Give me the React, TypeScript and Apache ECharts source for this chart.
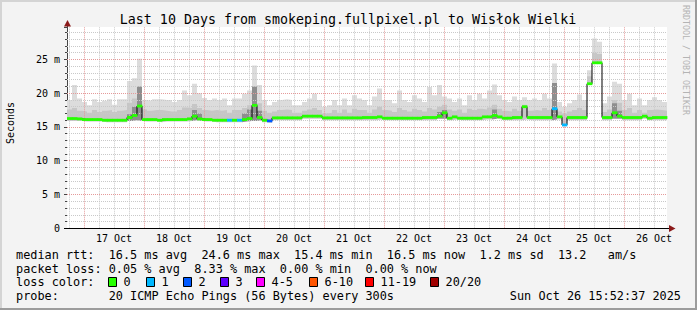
import React, { useEffect, useRef } from 'react';
import * as echarts from 'echarts';

const W = 697;
const H = 310;
const FONT = "'DejaVu Sans Mono', monospace";

const titleText = 'Last 10 Days from smokeping.fullpixel.pl to Wisłok Wielki';
const yAxisTitle = 'Seconds';
const watermark = 'RRDTOOL / TOBI OETIKER';

// time: hours since the left edge of the graph
const stepHours = 2;
const spanHours = 240;
const firstMidnight = 6.8;
const dayLabels = ['17 Oct', '18 Oct', '19 Oct', '20 Oct', '21 Oct', '22 Oct', '23 Oct', '24 Oct', '25 Oct', '26 Oct'];

// median rtt (ms), one value per 2-hour step
const median = [
  16.25, 16.25, 16.2, 16.1, 16.1, 16.1, 16.1, 16.0, 16.0, 16.0, 16.0, 16.0, 16.4, 16.7, 18.1, 16.1, 16.1, 16.1, 16.0, 16.1, 16.1, 16.1, 16.1, 16.1, 16.2, 16.6, 16.2, 16.1, 16.1,
  16.0, 16.0, 16.0, 16.0, 16.0, 16.0, 16.1, 16.25, 18.2, 16.4, 16.0, 15.9, 16.35, 16.35, 16.35, 16.35, 16.35, 16.35, 16.6, 16.6, 16.6, 16.6, 16.35, 16.35, 16.35, 16.35, 16.35, 16.35, 16.35, 16.35,
  16.4, 16.4, 16.4, 16.5, 16.3, 16.3, 16.3, 16.3, 16.3, 16.3, 16.3, 16.3, 16.4, 16.4, 16.4, 16.6, 17.1, 16.3, 16.5, 16.3, 16.3, 16.3, 16.3, 16.3, 16.5, 16.5, 16.7, 16.5, 16.3, 16.3,
  16.4, 16.4, 18.0, 16.4, 16.4, 16.4, 16.4, 16.4, 17.7, 16.5, 15.3, 16.4, 16.4, 16.4, 16.4, 21.4, 24.5, 24.5, 16.4, 16.4, 17.1, 16.6, 16.4, 16.4, 16.4, 16.4, 16.6, 16.3, 16.4, 16.4, 16.4,
];

// smoke: lowest ping, upper edge of the dense band, highest ping (ms)
const smokeLo = [
  15.9, 15.9, 15.9, 15.8, 15.8, 15.8, 15.8, 15.7, 15.7, 15.7, 15.7, 15.7, 15.9, 16.0, 15.9, 15.8, 15.8, 15.8, 15.7, 15.8, 15.8, 15.8, 15.8, 15.8, 15.9, 16.0, 15.9, 15.8, 15.8,
  15.7, 15.7, 15.7, 15.7, 15.7, 15.7, 15.8, 15.9, 15.9, 16.0, 15.7, 15.6, 16.0, 16.0, 16.0, 16.0, 16.0, 16.0, 16.2, 16.2, 16.2, 16.2, 16.0, 16.0, 16.0, 16.0, 16.0, 16.0, 16.0, 16.0,
  16.0, 16.0, 16.0, 16.1, 16.0, 16.0, 16.0, 16.0, 16.0, 16.0, 16.0, 16.0, 16.0, 16.0, 16.0, 16.2, 16.2, 16.0, 16.1, 16.0, 16.0, 16.0, 16.0, 16.0, 16.1, 16.1, 16.2, 16.1, 16.0, 16.0,
  16.0, 16.0, 16.1, 16.0, 16.0, 16.0, 16.0, 16.0, 16.1, 16.1, 15.1, 16.0, 16.0, 16.0, 16.0, 21.4, 24.5, 24.5, 16.0, 16.0, 16.2, 16.2, 16.0, 16.0, 16.0, 16.0, 16.2, 16.0, 16.0, 16.0, 16.0,
];
const smokeMid = [
  17.6, 17.8, 17.4, 17.3, 17.1, 17.5, 17.2, 17.4, 17.5, 17.2, 17.4, 17.5, 18.6, 19.2, 20.5, 17.6, 17.4, 17.5, 17.5, 17.4, 17.3, 17.3, 17.5, 17.9, 17.8, 18.4, 17.8, 17.5, 17.4,
  17.5, 17.4, 17.5, 17.1, 17.5, 17.5, 17.8, 18.2, 20.5, 18.5, 17.4, 17.1, 17.3, 17.5, 17.6, 17.5, 17.1, 17.1, 17.4, 17.6, 17.8, 17.5, 17.0, 17.1, 17.5, 17.1, 17.6, 17.1, 17.7, 17.5,
  17.5, 17.1, 17.6, 18.0, 17.5, 17.4, 17.2, 17.8, 17.5, 17.3, 17.7, 17.5, 17.3, 17.8, 17.6, 18.0, 18.3, 17.6, 17.4, 17.6, 17.1, 17.7, 17.5, 17.7, 17.6, 17.9, 18.3, 17.7, 17.4, 17.3,
  17.7, 17.4, 18.3, 17.4, 17.5, 17.4, 17.8, 17.5, 20.0, 17.3, 17.0, 17.3, 17.5, 17.8, 17.5, 22.5, 26.0, 25.8, 17.2, 17.6, 19.0, 18.6, 17.5, 17.8, 17.1, 17.5, 17.1, 17.5, 17.6, 17.5, 17.4,
];
const smokeHi = [
  19.0, 21.2, 19.2, 18.7, 18.2, 19.1, 18.7, 18.9, 19.1, 18.3, 19.1, 19.1, 21.8, 22.2, 25.1, 19.0, 18.9, 19.1, 19.1, 19.0, 19.0, 18.7, 19.0, 20.4, 19.7, 21.4, 20.0, 19.3, 19.0,
  19.2, 19.0, 19.2, 18.2, 19.2, 19.2, 19.9, 20.4, 24.1, 21.2, 19.0, 18.2, 18.7, 19.0, 19.1, 19.0, 18.2, 18.2, 18.7, 19.2, 19.9, 19.0, 18.0, 18.2, 19.0, 18.2, 19.2, 18.2, 19.7, 19.2,
  19.0, 18.2, 19.5, 20.7, 19.0, 19.0, 18.5, 20.4, 19.0, 18.7, 19.7, 19.2, 18.7, 20.9, 19.7, 21.2, 19.5, 19.2, 18.7, 19.2, 18.2, 19.7, 19.0, 19.9, 19.2, 20.4, 21.3, 19.7, 19.0, 18.7,
  19.5, 19.0, 19.4, 19.0, 19.2, 19.0, 19.9, 19.2, 24.4, 18.7, 18.0, 18.5, 19.0, 19.8, 19.0, 23.4, 28.1, 27.6, 18.5, 19.5, 21.7, 21.4, 19.0, 19.9, 18.2, 19.2, 18.2, 19.0, 19.4, 19.0, 18.7,
];
// [step index, top of the dark smoke column in ms]
const darkSpikes = [
  [12, 16.9], [13, 18.0], [14, 21.0], [25, 17.5], [26, 17.0],
  [35, 17.0], [36, 17.6], [37, 21.0], [38, 17.4],
  [74, 17.2], [75, 17.5], [85, 17.6],
  [97, 21.5], [109, 18.5], [110, 17.4],
];
// [step index, loss class]
const lossMarks = [[32, 1], [34, 1], [40, 2], [97, 1], [99, 1]];

const lossLabels = ['0', '1', '2', '3', '4-5', '6-10', '11-19', '20/20'];
const lossColors = ['#26ff00', '#00b8ff', '#0059ff', '#5e00ff', '#ff00ff', '#ff5500', '#ff0000', '#a00000'];

const legendRtt = 'median rtt:  16.5 ms avg  24.6 ms max  15.4 ms min  16.5 ms now  1.2 ms sd  13.2   am/s';
const legendLoss = 'packet loss: 0.05 % avg  8.33 % max  0.00 % min  0.00 % now';
const legendColor = 'loss color:';
const legendProbe = 'probe:       20 ICMP Echo Pings (56 Bytes) every 300s';
const legendStamp = 'Sun Oct 26 15:52:37 2025';

function buildOption() {
  const xs = median.map((_, i) => i * stepHours);
  const withEnd = (arr: number[]) => [...arr.map((v, i) => [xs[i], v]), [spanHours, arr[arr.length - 1]]];
  const darkMap = new Map(darkSpikes.map(([i, v]) => [i, v]));
  const lossMap = new Map(lossMarks.map(([i, v]) => [i, v]));
  const darkTop = smokeLo.map((_, i) => (darkMap.has(i) ? (darkMap.get(i) as number) : 0));
  const medianBars = median.map((m, i) => [xs[i], xs[i] + stepHours, m, lossMap.get(i) ?? 0]);

  const minorY: number[] = [];
  const majorY: number[] = [];
  for (let v = 1; v < 30; v++) (v % 5 === 0 ? majorY : minorY).push(v);
  const minorX: number[] = [];
  const majorX: number[] = [];
  for (let h = firstMidnight - 6; h < spanHours; h += 6) {
    const k = Math.round((h - firstMidnight) / 6);
    if (h <= 0) continue;
    (k % 4 === 0 ? majorX : minorX).push(h);
  }

  const hidden = { width: 0, opacity: 0 };
  // painter's order: each layer fills down to the axis, the next one paints over it
  const layer = (arr: number[], color: string, z: number) => ({
    type: 'line', step: 'end', symbol: 'none', silent: true, z, lineStyle: hidden,
    data: withEnd(arr), areaStyle: { color, opacity: 1, origin: 'start' },
  });

  const gridLine = (color: string, xv: number[], yv: number[]) => ({
    type: 'line', data: [], silent: true, z: 3,
    markLine: {
      silent: true, symbol: ['none', 'none'], animation: false, z: 4,
      label: { show: false },
      lineStyle: { color, width: 1, type: [1, 1] },
      emphasis: { disabled: true },
      data: [...xv.map((v) => ({ xAxis: v })), ...yv.map((v) => ({ yAxis: v }))],
    },
  });

  const LF = 11.85;
  const legendBoxX = [108, 146, 183, 220, 256, 309, 365, 430];
  const txt = (text: string, x: number, y: number, size: number, extra: any = {}) => ({
    type: 'text', x, y, silent: true, z: 20,
    style: { text, fill: '#000', fontFamily: FONT, fontSize: size, align: 'left', verticalAlign: 'middle', ...extra },
  });

  const graphic: any[] = [
    { type: 'rect', shape: { x: 0, y: 0, width: W, height: 2 }, style: { fill: '#d4d4d4' }, silent: true },
    { type: 'rect', shape: { x: 0, y: 0, width: 2, height: H }, style: { fill: '#d4d4d4' }, silent: true },
    { type: 'rect', shape: { x: W - 2, y: 0, width: 2, height: H }, style: { fill: '#9c9c9c' }, silent: true },
    { type: 'rect', shape: { x: 0, y: H - 2, width: W, height: 2 }, style: { fill: '#9c9c9c' }, silent: true },
    txt(titleText, 348, 19, 13.3, { align: 'center' }),
    { ...txt(yAxisTitle, 10, 123, 10, { align: 'center' }), rotation: Math.PI / 2 },
    { ...txt(watermark, 686, 60, 8.3, { align: 'center', fill: '#b4b4b4' }), rotation: -Math.PI / 2 },
    { type: 'line', shape: { x1: 67.5, y1: 21, x2: 67.5, y2: 28 }, style: { stroke: '#444', lineWidth: 1 }, silent: true, z: 20 },
    { type: 'line', shape: { x1: 64, y1: 228.5, x2: 671, y2: 228.5 }, style: { stroke: '#000', lineWidth: 1 }, silent: true, z: 20 },
    { type: 'polygon', shape: { points: [[64, 26.5], [71, 26.5], [67.5, 20]] }, style: { fill: '#8b1a1a' }, silent: true, z: 21 },
    { type: 'polygon', shape: { points: [[669, 225], [669, 232], [675.5, 228.5]] }, style: { fill: '#8b1a1a' }, silent: true, z: 21 },
    txt(legendRtt, 16, 255, LF),
    txt(legendLoss, 16, 268.5, LF),
    txt(legendColor, 16, 282, LF),
    txt(legendProbe, 16, 296, LF),
    txt(legendStamp, 681, 296, LF, { align: 'right' }),
  ];
  lossLabels.forEach((lab, k) => {
    graphic.push({
      type: 'rect', shape: { x: legendBoxX[k] + 0.5, y: 277.5, width: 8, height: 9 },
      style: { fill: lossColors[k], stroke: '#000', lineWidth: 1 }, silent: true, z: 20,
    });
    graphic.push(txt(lab, legendBoxX[k] + 15.5, 282, LF));
  });

  return {
    animation: false,
    backgroundColor: '#f3f3f3',
    grid: { left: 67, right: 30, top: 27, bottom: 81.7, show: true, backgroundColor: '#ffffff', borderWidth: 0 },
    xAxis: {
      type: 'value', min: 0, max: spanHours,
      axisLine: { show: false },
      axisTick: { show: false },
      splitLine: { show: false },
      axisLabel: {
        customValues: dayLabels.map((_, k) => firstMidnight + 12 + 24 * k),
        formatter: (v: number) => dayLabels[Math.round((v - firstMidnight - 12) / 24)] ?? '',
        color: '#000', fontFamily: FONT, fontSize: 10, margin: 5,
      },
    },
    yAxis: {
      type: 'value', min: 0, max: 29.8, interval: 5,
      axisLine: { show: true, lineStyle: { color: '#444', width: 1 } },
      axisTick: { show: true, length: 3, lineStyle: { color: '#444' } },
      minorTick: { show: true, splitNumber: 5, length: 2, lineStyle: { color: '#444' } },
      splitLine: { show: false },
      axisLabel: {
        formatter: (v: number) => (v === 0 ? '0' : Math.abs(v % 5) < 1e-6 ? `${v} m` : ''),
        color: '#000', fontFamily: FONT, fontSize: 10, margin: 7,
      },
    },
    graphic,
    series: [
      layer(smokeHi, '#dcdcdc', 2),
      layer(smokeMid, '#c6c6c6', 2),
      layer(darkTop, '#8e8e8e', 2),
      layer(smokeLo, '#ffffff', 2),
      gridLine('#c9c9c9', minorX, minorY),
      gridLine('#e59a9a', majorX, majorY),
      {
        type: 'line', step: 'end', symbol: 'none', silent: true, z: 9,
        data: withEnd(median), lineStyle: { color: '#000', width: 1 },
      },
      {
        type: 'custom', silent: true, z: 10,
        data: medianBars,
        encode: { x: [0, 1], y: 2 },
        renderItem: (params: any, api: any) => {
          const x0 = api.value(0);
          const x1 = api.value(1);
          const m = api.value(2);
          const c = api.value(3);
          const p0 = api.coord([x0, m]);
          const p1 = api.coord([x1, m]);
          return {
            type: 'rect',
            shape: { x: p0[0], y: p0[1] - 1.4, width: p1[0] - p0[0] + 0.4, height: 2.8 },
            style: { fill: lossColors[c] },
          };
        },
      },
    ],
  };
}

export default function App() {
  const ref = useRef<HTMLDivElement>(null);
  useEffect(() => {
    const chart = echarts.init(ref.current as HTMLDivElement, null, { renderer: 'svg' });
    chart.setOption(buildOption() as any);
    return () => chart.dispose();
  }, []);
  return <div ref={ref} style={{ position: 'absolute', left: 0, top: 0, width: W, height: H }} />;
}
